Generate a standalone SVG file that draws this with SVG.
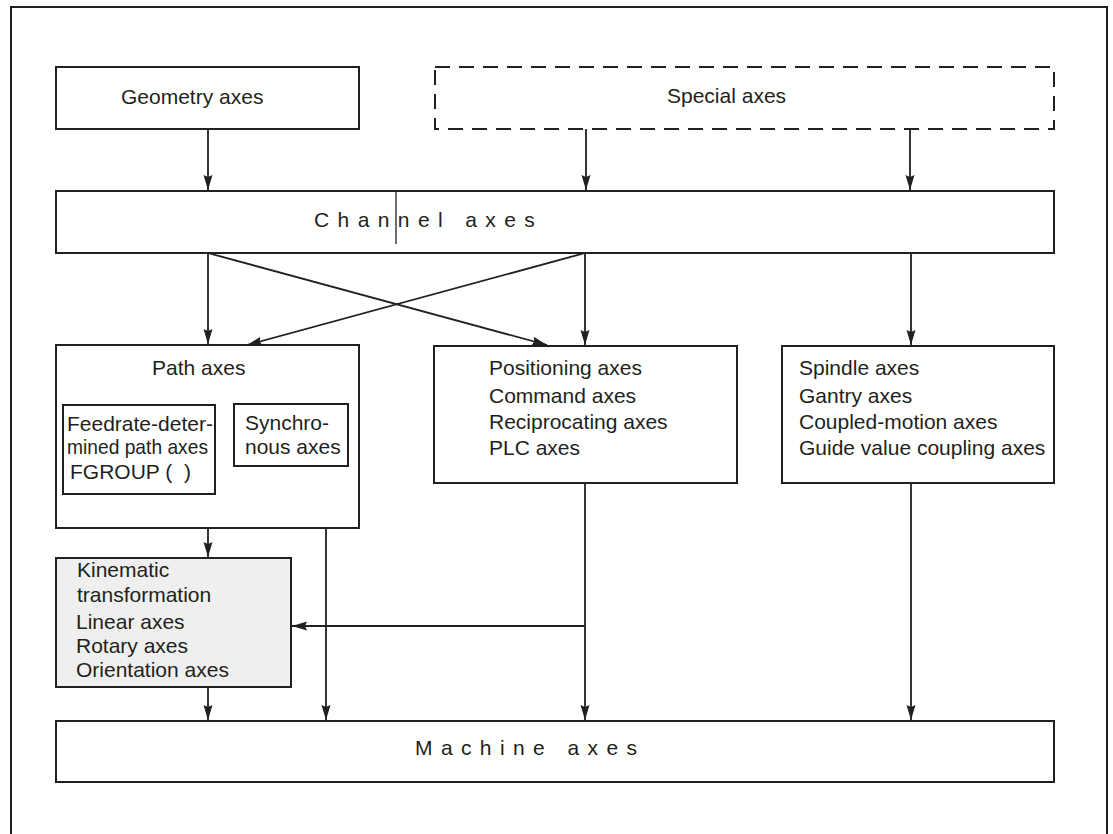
<svg xmlns="http://www.w3.org/2000/svg" width="1113" height="834" viewBox="0 0 1113 834">
<style>
.box{fill:#fff;stroke:#231f20;stroke-width:2}
.gray{fill:#eeefee;stroke:#231f20;stroke-width:2}
.dash{fill:#fff;stroke:#231f20;stroke-width:2;stroke-dasharray:15 9}
.ln{fill:none;stroke:#231f20;stroke-width:1.8}
.t{font-family:"Liberation Sans",Arial,sans-serif;font-size:21px;fill:#231f20}
.sp{letter-spacing:8.4px}
</style>
<defs>
<marker id="ah" markerUnits="userSpaceOnUse" markerWidth="16" markerHeight="10" refX="15" refY="4.5" orient="auto">
<path d="M0,0 L15,4.5 L0,9 L2,4.5 z" fill="#231f20"/>
</marker>
</defs>
<rect x="11" y="7" width="1096" height="870" fill="#fff" stroke="#231f20" stroke-width="2"/>

<g id="geometry">
<rect class="box" x="56" y="67" width="303" height="62"/>
<text class="t" x="121" y="104">Geometry axes</text>
</g>
<g id="special">
<rect class="dash" x="435" y="67" width="619" height="62"/>
<text class="t" x="667" y="103">Special axes</text>
</g>
<g id="channel">
<rect class="box" x="56" y="191" width="998" height="62"/>
<text class="t sp" x="314" y="227">Channel axes</text>
<line x1="396" y1="192" x2="396" y2="244" stroke="#231f20" stroke-width="1.3"/>
</g>
<g id="path">
<rect class="box" x="56" y="345" width="303" height="183"/>
<text class="t" x="152" y="375">Path axes</text>
<rect class="box" x="63" y="405" width="152" height="89"/>
<text class="t" x="67" y="431">Feedrate-deter-</text>
<text class="t" x="67" y="454" textLength="141" lengthAdjust="spacingAndGlyphs">mined path axes</text>
<text class="t" x="70" y="479">FGROUP (&#160;&#160;)</text>
<rect class="box" x="234" y="404" width="114" height="62"/>
<text class="t" x="245" y="430">Synchro-</text>
<text class="t" x="245" y="454">nous axes</text>
</g>
<g id="positioning">
<rect class="box" x="434" y="346" width="303" height="137"/>
<text class="t" x="489" y="375">Positioning axes</text>
<text class="t" x="489" y="403">Command axes</text>
<text class="t" x="489" y="429">Reciprocating axes</text>
<text class="t" x="489" y="455">PLC axes</text>
</g>
<g id="spindle">
<rect class="box" x="782" y="346" width="272" height="137"/>
<text class="t" x="799" y="375">Spindle axes</text>
<text class="t" x="799" y="403">Gantry axes</text>
<text class="t" x="799" y="429">Coupled-motion axes</text>
<text class="t" x="799" y="455">Guide value coupling axes</text>
</g>
<g id="kinematic">
<rect class="gray" x="56" y="558" width="235" height="129"/>
<text class="t" x="77" y="577">Kinematic</text>
<text class="t" x="77" y="602">transformation</text>
<text class="t" x="76" y="629">Linear axes</text>
<text class="t" x="76" y="653">Rotary axes</text>
<text class="t" x="76" y="677">Orientation axes</text>
</g>
<g id="machine">
<rect class="box" x="56" y="721" width="998" height="61"/>
<text class="t sp" x="415" y="755">Machine axes</text>
</g>

<g id="connectors">
<line class="ln" x1="208" y1="129" x2="208" y2="190" marker-end="url(#ah)"/>
<line class="ln" x1="586" y1="129" x2="586" y2="190" marker-end="url(#ah)"/>
<line class="ln" x1="910" y1="129" x2="910" y2="190" marker-end="url(#ah)"/>
<line class="ln" x1="208" y1="253" x2="208" y2="344" marker-end="url(#ah)"/>
<line class="ln" x1="585" y1="253" x2="585" y2="345" marker-end="url(#ah)"/>
<line class="ln" x1="911" y1="253" x2="911" y2="345" marker-end="url(#ah)"/>
<line class="ln" x1="208" y1="253" x2="547" y2="345" marker-end="url(#ah)"/>
<line class="ln" x1="585" y1="253" x2="247" y2="345" marker-end="url(#ah)"/>
<line class="ln" x1="208" y1="528" x2="208" y2="557" marker-end="url(#ah)"/>
<line class="ln" x1="208" y1="687" x2="208" y2="720" marker-end="url(#ah)"/>
<line class="ln" x1="326" y1="528" x2="326" y2="720" marker-end="url(#ah)"/>
<line class="ln" x1="585" y1="483" x2="585" y2="720" marker-end="url(#ah)"/>
<line class="ln" x1="911" y1="483" x2="911" y2="720" marker-end="url(#ah)"/>
<line class="ln" x1="585" y1="626" x2="292" y2="626" marker-end="url(#ah)"/>
</g>
</svg>
